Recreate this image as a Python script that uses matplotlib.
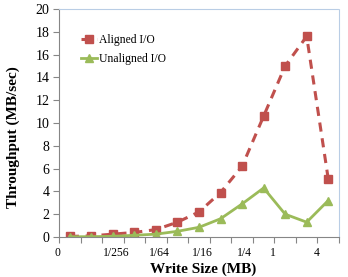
import matplotlib
matplotlib.use('Agg')
import matplotlib.pyplot as plt
import matplotlib.transforms as mtransforms
import numpy as np

# write sizes 1/1024 MB .. 4 MB (one point per doubling)
sizes = ['1/1024', '1/512', '1/256', '1/128', '1/64', '1/32', '1/16',
         '1/8', '1/4', '1/2', '1', '2', '4']
aligned = [0.05, 0.1, 0.25, 0.4, 0.65, 1.3, 2.2, 3.9, 6.2, 10.6, 15.0, 17.6, 5.1]
unaligned = [0.02, 0.03, 0.06, 0.15, 0.25, 0.5, 0.85, 1.6, 2.9, 4.3, 2.0, 1.3, 3.2]
# excel shows every other category, 1/1024 rounds to "0" in fraction format
shown_labels = ['0', '1/256', '1/64', '1/16', '1/4', '1', '4']
label_shift = [-12, 3, 3, 3, 2, -12, -12]   # pixel nudges from excel padding

red = '#C0504D'
green = '#9BBB59'
axis_grey = '#868686'

plt.rcParams['font.family'] = ['Liberation Serif', 'DejaVu Serif']

fig = plt.figure(figsize=(3.48, 2.77), dpi=100)
ax = fig.add_axes([59/348, 1-237/277, 280/348, 228/277])

x = np.arange(len(sizes))
ax.plot(x, aligned, color=red, lw=2.2, ls=(0, (3, 2.2)), marker='s',
        markersize=5.8, label='Aligned I/O')
ax.plot(x, unaligned, color=green, lw=2, marker='^', markersize=5.8,
        label='Unaligned I/O')

ax.set_xlim(-0.5, len(sizes) - 0.5)
ax.set_ylim(0, 20)
ax.set_yticks(np.arange(0, 21, 2))

# tick marks between categories, labels on every other category
ax.set_xticks(np.arange(-0.5, len(sizes), 1.0), minor=True)
ax.set_xticks(x[::2])
ax.set_xticklabels(shown_labels)
ax.tick_params(axis='x', which='major', length=0, pad=7, labelsize=8.4)
ax.tick_params(axis='x', which='minor', length=4, width=0.8, color=axis_grey,
               direction='out')
ax.tick_params(axis='y', length=4, width=0.8, color=axis_grey, pad=3,
               labelsize=10)
for lab, dx in zip(ax.get_xticklabels(), label_shift):
    lab.set_transform(lab.get_transform() +
                      mtransforms.ScaledTranslation(dx/100, 0, fig.dpi_scale_trans))

for side in ['left', 'bottom']:
    ax.spines[side].set_color(axis_grey)
    ax.spines[side].set_linewidth(0.8)
for side in ['top', 'right']:
    ax.spines[side].set_color('#B9CDE5')
    ax.spines[side].set_linestyle((0, (1, 1)))
    ax.spines[side].set_linewidth(0.8)

ax.set_xlabel('Write Size (MB)', fontsize=11, fontweight='bold')
ax.xaxis.set_label_coords(0.514, -0.112)
ax.set_ylabel('Throughput (MB/sec)', fontsize=11, fontweight='bold')
ax.yaxis.set_label_coords(-0.14, 0.44)

ax.legend(loc='upper left', bbox_to_anchor=(0.04, 0.935), frameon=False,
          fontsize=8.4, handlelength=1.4, handletextpad=0.15, labelspacing=0.6,
          markerscale=0.9)

fig.savefig('out.png', dpi=100)
